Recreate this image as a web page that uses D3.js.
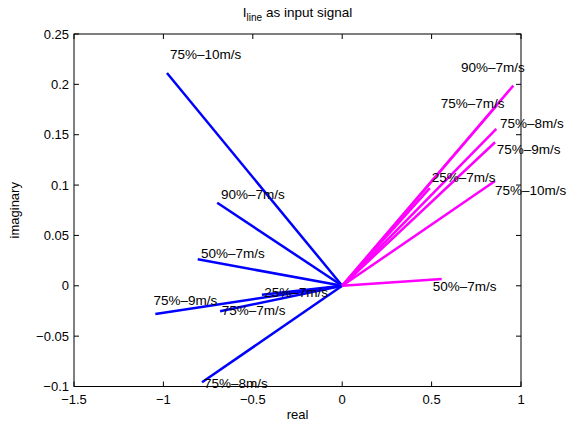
<!DOCTYPE html>
<html>
<head>
<meta charset="utf-8">
<script src="https://cdn.jsdelivr.net/npm/d3@7"></script>
<style>
  html, body { margin: 0; padding: 0; background: #fff; }
  svg { display: block; }
  text { font-family: "Liberation Sans", Arial, Helvetica, sans-serif; fill: #000; }
</style>
</head>
<body>
<svg id="chart" width="581" height="426"></svg>
<script>
// Axis ticks
const xTicks = [-1.5, -1, -0.5, 0, 0.5, 1];
const yTicks = [-0.1, -0.05, 0, 0.05, 0.1, 0.15, 0.2, 0.25];

// Phasors drawn in blue: tip (real, imag) and label anchor (real, imag)
const blueNames = ["75%–10m/s", "90%–7m/s", "50%–7m/s", "75%–9m/s", "75%–7m/s", "25%–7m/s", "75%–8m/s"];
const blueReal  = [-0.980, -0.699, -0.808, -1.045, -0.683, -0.449, -0.784];
const blueImag  = [0.2113, 0.0825, 0.0263, -0.0280, -0.0253, -0.0090, -0.0958];
const blueLabelReal = [-0.963, -0.678, -0.790, -1.056, -0.674, -0.436, -0.773];
const blueLabelImag = [0.2295, 0.0910, 0.0320, -0.0140, -0.0240, -0.0069, -0.0965];

// Phasors drawn in magenta
const magentaNames = ["90%–7m/s", "75%–7m/s", "25%–7m/s", "75%–8m/s", "75%–9m/s", "75%–10m/s", "50%–7m/s"];
const magentaReal  = [0.957, 0.866, 0.490, 0.862, 0.855, 0.855, 0.5565];
const magentaImag  = [0.1987, 0.1795, 0.0970, 0.1557, 0.1425, 0.1040, 0.0068];
const magentaLabelReal = [0.664, 0.551, 0.5006, 0.8826, 0.864, 0.855, 0.506];
const magentaLabelImag = [0.2166, 0.1812, 0.1073, 0.1614, 0.1356, 0.0950, -0.0002];

const svg = d3.select("#chart");
const margin = { left: 74, top: 34, right: 60, bottom: 39.5 };
const W = 581, H = 426;
const x = d3.scaleLinear().domain([-1.5, 1]).range([margin.left, W - margin.right]);
const y = d3.scaleLinear().domain([-0.1, 0.25]).range([H - margin.bottom, margin.top]);

const fmt = v => {
  const s = String(Math.abs(Math.round(v * 1000) / 1000));
  return (v < 0 ? "\u2212" : "") + s;
};

const x0 = x.range()[0], x1 = x.range()[1];
const y0 = y.range()[0], y1 = y.range()[1];
const tickLen = 5;

// Phasor lines from the origin
function drawSet(names, re, im, color) {
  svg.append("g").selectAll("line")
    .data(names.map((n, i) => ({ re: re[i], im: im[i] })))
    .join("line")
    .attr("x1", x(0)).attr("y1", y(0))
    .attr("x2", d => x(d.re)).attr("y2", d => y(d.im))
    .attr("stroke", color)
    .attr("stroke-width", 2.5)
    .attr("stroke-linecap", "butt");
}
drawSet(blueNames, blueReal, blueImag, "#0000ff");
drawSet(magentaNames, magentaReal, magentaImag, "#ff00ff");

// Labels
function drawLabels(names, lre, lim) {
  svg.append("g").selectAll("text")
    .data(names.map((n, i) => ({ n, re: lre[i], im: lim[i] })))
    .join("text")
    .attr("x", d => x(d.re))
    .attr("y", d => y(d.im))
    .attr("dy", "0.35em")
    .attr("font-size", 13.5)
    .text(d => d.n);
}
drawLabels(blueNames, blueLabelReal, blueLabelImag);
drawLabels(magentaNames, magentaLabelReal, magentaLabelImag);

// Axes box with inward ticks on all sides
const axG = svg.append("g").attr("stroke", "#000").attr("stroke-width", 1);
axG.append("rect")
  .attr("x", x0).attr("y", y1)
  .attr("width", x1 - x0).attr("height", y0 - y1)
  .attr("fill", "none");
axG.selectAll("line.xt")
  .data(xTicks)
  .join(enter => {
    const g = enter.append("g");
    g.append("line").attr("x1", d => x(d)).attr("x2", d => x(d)).attr("y1", y0).attr("y2", y0 - tickLen);
    g.append("line").attr("x1", d => x(d)).attr("x2", d => x(d)).attr("y1", y1).attr("y2", y1 + tickLen);
    return g;
  });
axG.selectAll("line.yt")
  .data(yTicks)
  .join(enter => {
    const g = enter.append("g");
    g.append("line").attr("y1", d => y(d)).attr("y2", d => y(d)).attr("x1", x0).attr("x2", x0 + tickLen);
    g.append("line").attr("y1", d => y(d)).attr("y2", d => y(d)).attr("x1", x1).attr("x2", x1 - tickLen);
    return g;
  });

// Tick labels
svg.append("g").selectAll("text")
  .data(xTicks)
  .join("text")
  .attr("x", d => x(d))
  .attr("y", y0 + 17)
  .attr("text-anchor", "middle")
  .attr("font-size", 13)
  .text(fmt);
svg.append("g").selectAll("text")
  .data(yTicks)
  .join("text")
  .attr("x", x0 - 5)
  .attr("y", d => y(d))
  .attr("dy", "0.35em")
  .attr("text-anchor", "end")
  .attr("font-size", 13)
  .text(fmt);

// Axis titles
svg.append("text")
  .attr("x", (x0 + x1) / 2)
  .attr("y", 419)
  .attr("text-anchor", "middle")
  .attr("font-size", 13)
  .text("real");
svg.append("text")
  .attr("transform", `translate(19,${(y0 + y1) / 2}) rotate(-90)`)
  .attr("text-anchor", "middle")
  .attr("font-size", 13)
  .text("imaginary");

// Plot title with subscript
const title = svg.append("text")
  .attr("x", (x0 + x1) / 2)
  .attr("y", 17)
  .attr("text-anchor", "middle")
  .attr("font-size", 13.5);
title.append("tspan").text("I");
title.append("tspan").attr("font-size", 10).attr("dy", 4).text("line");
title.append("tspan").attr("dy", -4).text(" as input signal");
</script>
</body>
</html>
